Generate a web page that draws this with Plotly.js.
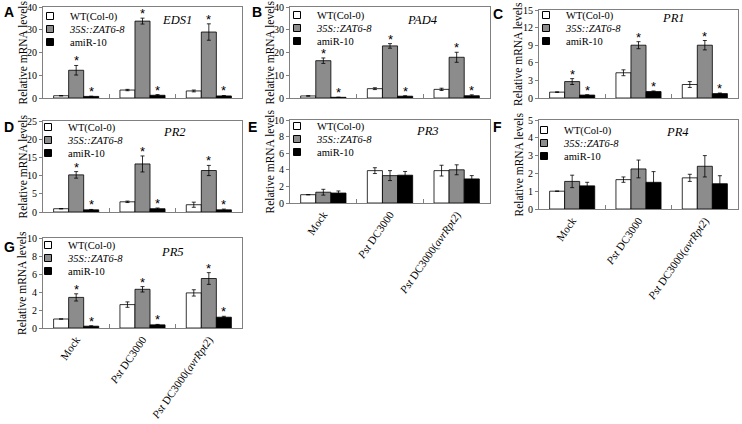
<!DOCTYPE html>
<html><head><meta charset="utf-8">
<script src="https://cdn.plot.ly/plotly-3.0.1.min.js"></script>
<style>html,body{margin:0;padding:0;background:#fff}#chart{width:742px;height:424px}</style>
</head><body><div id="chart"></div>
<script>
// ---------- data ----------
const categories = ['Mock', '<i>Pst</i> DC3000', '<i>Pst</i> DC3000(<i>avrRpt2</i>)'];
const seriesNames = ['WT(Col-0)', '<i>35S::ZAT6-8</i>', 'amiR-10'];
const panelLetters = ['A', 'B', 'C', 'D', 'E', 'F', 'G'];
const geneNames = ['EDS1', 'PAD4', 'PR1', 'PR2', 'PR3', 'PR4', 'PR5'];
const yTitle = 'Relative mRNA levels';
const yMax = [40, 40, 15, 25, 10, 5, 10];
const yDtick = [10, 10, 3, 5, 2, 1, 2];

// means: [WT, 35S::ZAT6-8, amiR-10] x [Mock, Pst DC3000, Pst DC3000(avrRpt2)]
const eds1Mean = [[1.0, 3.5, 3.1], [12.2, 33.8, 29.0], [0.7, 1.2, 0.9]];
const eds1Err  = [[0.1, 0.3, 0.4], [2.1, 1.3, 3.6], [0.1, 0.3, 0.2]];
const pad4Mean = [[0.9, 4.1, 3.8], [16.4, 22.9, 17.9], [0.3, 0.8, 1.0]];
const pad4Err  = [[0.1, 0.4, 0.5], [1.2, 1.0, 2.2], [0.05, 0.2, 0.4]];
const pr1Mean  = [[1.0, 4.3, 2.3], [2.8, 9.0, 9.0], [0.5, 1.1, 0.75]];
const pr1Err   = [[0.05, 0.5, 0.5], [0.5, 0.6, 0.8], [0.05, 0.1, 0.1]];
const pr2Mean  = [[0.9, 2.8, 2.0], [10.2, 13.2, 11.4], [0.6, 0.9, 0.6]];
const pr2Err   = [[0.05, 0.2, 0.7], [0.9, 2.2, 1.4], [0.1, 0.2, 0.2]];
const pr3Mean  = [[1.0, 3.9, 3.9], [1.3, 3.3, 4.0], [1.2, 3.35, 2.9]];
const pr3Err   = [[0.0, 0.35, 0.65], [0.35, 0.6, 0.6], [0.25, 0.45, 0.4]];
const pr4Mean  = [[1.0, 1.65, 1.75], [1.55, 2.25, 2.4], [1.3, 1.5, 1.42]];
const pr4Err   = [[0.0, 0.15, 0.2], [0.35, 0.5, 0.6], [0.2, 0.6, 0.45]];
const pr5Mean  = [[1.0, 2.6, 3.9], [3.4, 4.3, 5.5], [0.2, 0.35, 1.2]];
const pr5Err   = [[0.0, 0.3, 0.35], [0.4, 0.3, 0.65], [0.05, 0.05, 0.1]];
// significance marks per series [WT, ZAT6, amiR]
const sigABCDG = [false, true, true];
const sigNone  = [false, false, false];

const panelMeans = [eds1Mean, pad4Mean, pr1Mean, pr2Mean, pr3Mean, pr4Mean, pr5Mean];
const panelErrs  = [eds1Err, pad4Err, pr1Err, pr2Err, pr3Err, pr4Err, pr5Err];
const panelSig   = [sigABCDG, sigABCDG, sigABCDG, sigABCDG, sigNone, sigNone, sigABCDG];

// ---------- style / layout ----------
const W = 742, H = 424;
const boxes = [
  [43, 242, 7, 98], [290, 490, 7, 98], [539, 738, 10, 98],
  [43, 242, 121, 212], [290, 490, 120, 203], [539, 738, 120, 209],
  [43, 242, 238, 328]
];
const showXLabels = [false, false, false, false, true, true, true];
const letterPos = [[2, 2], [250, 2], [491, 4], [2, 117], [246, 117], [491, 117], [2, 237]];
const genePos = [[177, 20], [422, 20], [673, 18], [174, 132], [428, 131], [677, 132], [172, 252]];
const legendTop = [16, 15, 15, 127, 126, 130, 245];
const legendSymX = [50, 297, 546, 48, 297, 544, 48];
const colors = ['#ffffff', '#8c8c8c', '#000000'];
const serif = '"Liberation Serif", "Times New Roman", serif';
const BARGAP = 0.32;
const fx = px => px / W;
const fy = py => 1 - py / H;

const traces = [];
const layout = {
  width: W, height: H, margin: {l: 0, r: 0, t: 0, b: 0},
  paper_bgcolor: '#fff', plot_bgcolor: '#fff',
  barmode: 'group', bargap: BARGAP, bargroupgap: 0,
  showlegend: true, annotations: []
};

panelMeans.forEach((means, p) => {
  const n = p + 1;
  const xa = n === 1 ? 'x' : 'x' + n;
  const ya = n === 1 ? 'y' : 'y' + n;
  const [x0, x1, y0, y1] = boxes[p];
  layout[n === 1 ? 'xaxis' : 'xaxis' + n] = {
    domain: [fx(x0), fx(x1)], anchor: ya, type: 'category', range: [-0.5, 2.5],
    showline: true, mirror: true, linecolor: '#808080', linewidth: 1,
    ticks: 'inside', tickson: 'boundaries', ticklen: 4, tickcolor: '#808080',
    showgrid: false, zeroline: false, showticklabels: showXLabels[p], automargin: false,
    tickangle: -55, tickfont: {family: serif, size: 11, color: '#000'}, fixedrange: true
  };
  layout[n === 1 ? 'yaxis' : 'yaxis' + n] = {
    domain: [fy(y1), fy(y0)], anchor: xa, range: [0, yMax[p]], tick0: 0, dtick: yDtick[p],
    showline: true, mirror: true, linecolor: '#808080', linewidth: 1,
    ticks: 'outside', ticklen: 3, tickcolor: '#808080', automargin: false,
    showgrid: false, zeroline: false, tickfont: {family: serif, size: 10, color: '#000'},
    fixedrange: true
  };
  const barPx = (x1 - x0) / categories.length * (1 - BARGAP) / seriesNames.length;
  means.forEach((vals, s) => {
    traces.push({
      type: 'bar', x: categories, y: vals, name: seriesNames[s], xaxis: xa, yaxis: ya,
      showlegend: false,
      marker: {color: colors[s], line: {color: '#000', width: 0.8}},
      error_y: {type: 'data', array: panelErrs[p][s], visible: true, color: '#000', thickness: 0.8, width: 2},
      hoverinfo: 'skip'
    });
    // legend entry
    const lid = 'legend' + (p * 3 + s === 0 ? '' : (p * 3 + s + 1));
    traces.push({
      type: 'scatter', mode: 'markers', x: [null], y: [null], xaxis: xa, yaxis: ya,
      name: seriesNames[s], legend: lid, showlegend: true,
      marker: {symbol: 'square', size: 7, color: colors[s], line: {color: '#000', width: 1}}
    });
    layout[lid] = {
      x: fx(legendSymX[p] - 20), xanchor: 'left', y: fy(legendTop[p] + s * 13), yanchor: 'middle',
      bgcolor: 'rgba(0,0,0,0)', borderwidth: 0, font: {family: serif, size: 10.5, color: '#000'},
      itemclick: false, itemdoubleclick: false
    };
    if (panelSig[p][s]) {
      vals.forEach((v, j) => {
        layout.annotations.push({
          xref: xa, yref: ya, x: categories[j], y: v + panelErrs[p][s][j],
          xshift: (s - 1) * barPx, yshift: -5, yanchor: 'bottom', showarrow: false,
          text: '*', font: {family: 'Liberation Sans, Arial, sans-serif', size: 13, color: '#000'}
        });
      });
    }
  });
  // y-axis title
  layout.annotations.push({
    xref: 'paper', yref: 'paper', x: fx(x0 - 21), y: fy((y0 + y1) / 2),
    xanchor: 'center', yanchor: 'middle', textangle: -90, showarrow: false, text: yTitle,
    font: {family: serif, size: 11.5, color: '#000'}
  });
  layout.annotations.push({
    xref: 'paper', yref: 'paper', x: fx(letterPos[p][0]), y: fy(letterPos[p][1]),
    xanchor: 'left', yanchor: 'top', showarrow: false, text: '<b>' + panelLetters[p] + '</b>',
    font: {family: 'Liberation Sans, Arial, sans-serif', size: 14, color: '#000'}
  });
  layout.annotations.push({
    xref: 'paper', yref: 'paper', x: fx(genePos[p][0]), y: fy(genePos[p][1]),
    xanchor: 'center', yanchor: 'middle', showarrow: false, text: '<i>' + geneNames[p] + '</i>',
    font: {family: serif, size: 12.5, color: '#000'}
  });
});

Plotly.newPlot('chart', traces, layout, {displayModeBar: false, staticPlot: true});
</script>
</body></html>
